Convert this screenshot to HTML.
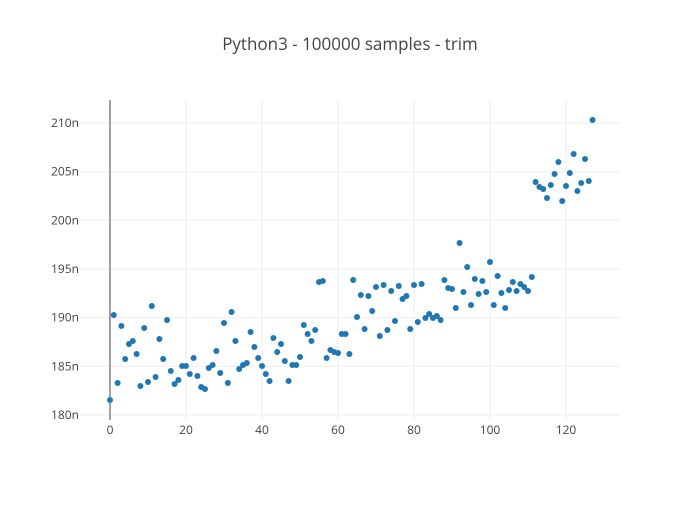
<!DOCTYPE html>
<html><head><meta charset="utf-8"><style>
body{margin:0;background:#fff}
svg text{font-family:"Open Sans","Liberation Sans",sans-serif;fill:#444}
</style></head><body>
<svg id="s" width="700" height="500" xmlns="http://www.w3.org/2000/svg">
<rect width="700" height="500" fill="#fff"/>
<text x="350" y="50" text-anchor="middle" font-size="17">Python3 - 100000 samples - trim</text>
<g stroke="#eee" stroke-width="1">
<line x1="80" x2="620" y1="415" y2="415"/>
<line x1="80" x2="620" y1="366.3" y2="366.3"/>
<line x1="80" x2="620" y1="317.7" y2="317.7"/>
<line x1="80" x2="620" y1="269" y2="269"/>
<line x1="80" x2="620" y1="220.3" y2="220.3"/>
<line x1="80" x2="620" y1="171.7" y2="171.7"/>
<line x1="80" x2="620" y1="123" y2="123"/>
<line x1="186" x2="186" y1="100" y2="420"/>
<line x1="262" x2="262" y1="100" y2="420"/>
<line x1="338" x2="338" y1="100" y2="420"/>
<line x1="414" x2="414" y1="100" y2="420"/>
<line x1="490" x2="490" y1="100" y2="420"/>
<line x1="566" x2="566" y1="100" y2="420"/>
</g>
<line x1="110" x2="110" y1="100" y2="420" stroke="#444" stroke-width="1"/>
<g font-size="12" text-anchor="end">
<text x="79" y="419">180n</text><text x="79" y="370.3">185n</text><text x="79" y="321.7">190n</text>
<text x="79" y="273">195n</text><text x="79" y="224.3">200n</text><text x="79" y="175.7">205n</text><text x="79" y="127">210n</text>
</g>
<g font-size="12" text-anchor="middle">
<text x="110" y="434">0</text><text x="186" y="434">20</text><text x="262" y="434">40</text><text x="338" y="434">60</text><text x="414" y="434">80</text><text x="490" y="434">100</text><text x="566" y="434">120</text>
</g>
<g id="pts" fill="#1f77b4"></g>
</svg>
<script>
var y=[400,315,383,326,359,344,341,354,386,328,382,306,377,339,359,320,371,384,380,366,366,374,358,376,387,389,368,365,351,373,323,383,312,341,369,365,363,332,347,358,366,374,381,338,352,344,361,381,365,365,357,325,334,341,330,282,281,358,350,352,353,334,334,354,280,317,295,329,296,311,287,336,285,330,291,321,286,299,296,329,285,322,284,318,314,318,316,320,280,288,289,308,243,292,267,305,279,294,281,292,262,305,276,293,308,290,282,291,284,287,291,277,182,187,189,198,185,174,162,201,186,173,154,191,183,159,181,120];
var g=document.getElementById('pts'),h='';
for(var i=0;i<y.length;i++){h+='<circle cx="'+(110+3.8*i)+'" cy="'+y[i]+'" r="3"/>';}
g.innerHTML=h;
</script>
</body></html>
